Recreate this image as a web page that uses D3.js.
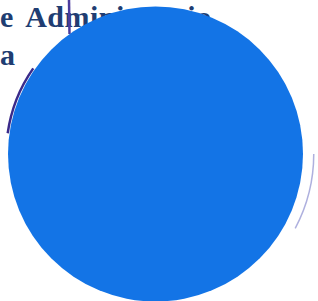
<!DOCTYPE html>
<html>
<head>
<meta charset="utf-8">
<script src="https://cdn.jsdelivr.net/npm/d3@7"></script>
<style>
  body { margin: 0; background: #fff; overflow: hidden; }
</style>
</head>
<body>
<div id="growingCircle"></div>
<script>
// text lines from the scanned page behind the circle
const textLines = ["e Administratio", "a"];
const lineBaselines = [27, 65];

// one value, drawn as one circle
const circleValue = [100];
const circleCenter = [155.5, 154];

// pen marks on the scan: [start angle, end angle] in degrees
const penArcs = [[-82, -55]];
const faintArcs = [[90, 118]];

const width = 318, height = 301;

const svg = d3.select("#growingCircle")
    .append("svg")
    .attr("width", width)
    .attr("height", height);

svg.selectAll("text.line")
    .data(textLines)
    .enter()
    .append("text")
    .attr("class", "line")
    .attr("x", 0)
    .attr("y", (d, i) => lineBaselines[i])
    .attr("fill", "#203d72")
    .style("font-family", "'Liberation Serif', 'DejaVu Serif', serif")
    .style("font-weight", "bold")
    .style("font-size", "30px")
    .style("word-spacing", "5px")
    .style("letter-spacing", "0.5px")
    .text(d => d);

// vertical pen stroke
svg.append("line")
    .attr("x1", 69).attr("x2", 69.5)
    .attr("y1", 0).attr("y2", 34)
    .attr("stroke", "#4b3c9e")
    .attr("stroke-width", 2.5);

const rScale = d3.scaleSqrt().domain([0, 100]).range([0, 147.5]);

const g = svg.append("g")
    .attr("transform", "translate(" + circleCenter[0] + "," + circleCenter[1] + ")");

g.selectAll("path.pen")
    .data(penArcs)
    .enter()
    .append("path")
    .attr("class", "pen")
    .attr("d", d => d3.arc()({
        innerRadius: rScale(circleValue[0]) + 0.5,
        outerRadius: rScale(circleValue[0]) + 3,
        startAngle: d[0] * Math.PI / 180,
        endAngle: d[1] * Math.PI / 180
    }))
    .attr("fill", "#3a2a8a");

g.selectAll("path.faint")
    .data(faintArcs)
    .enter()
    .append("path")
    .attr("class", "faint")
    .attr("d", d => d3.arc()({
        innerRadius: rScale(circleValue[0]) + 10,
        outerRadius: rScale(circleValue[0]) + 11.5,
        startAngle: d[0] * Math.PI / 180,
        endAngle: d[1] * Math.PI / 180
    }))
    .attr("fill", "#8c8fd0")
    .attr("opacity", 0.7);

g.selectAll("circle")
    .data(circleValue)
    .enter()
    .append("circle")
    .attr("cx", 0)
    .attr("cy", 0)
    .attr("r", d => rScale(d))
    .attr("fill", "#1374e6");
</script>
</body>
</html>
